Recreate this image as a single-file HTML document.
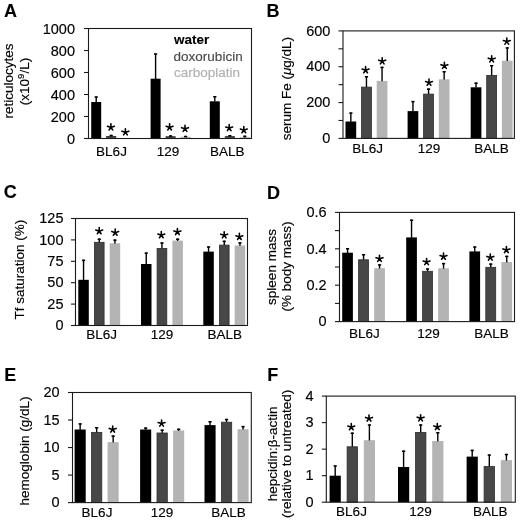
<!DOCTYPE html>
<html><head><meta charset="utf-8"><style>
html,body{margin:0;padding:0;background:#fff;}
svg{display:block;filter:grayscale(1);}
text{font-family:"Liberation Sans", sans-serif;}
</style></head><body>
<svg width="520" height="523" viewBox="0 0 520 523">
<rect width="520" height="523" fill="#fff"/>
<rect x="91.20" y="102.00" width="10.00" height="36.50" fill="#000000"/>
<rect x="95.50" y="96.30" width="1.4" height="6.00" fill="#000"/>
<rect x="94.60" y="96.30" width="3.2" height="1.5" fill="#000"/>
<rect x="106.60" y="136.40" width="9.20" height="2.10" fill="#474747" stroke="#2e2e2e" stroke-width="0.8"/>
<rect x="110.50" y="134.80" width="1.4" height="1.50" fill="#000"/>
<rect x="109.60" y="134.80" width="3.2" height="1.5" fill="#000"/>
<rect x="121.20" y="138.50" width="10.00" height="0.00" fill="#b4b4b4"/>
<rect x="150.60" y="78.70" width="10.00" height="59.80" fill="#000000"/>
<rect x="154.90" y="53.30" width="1.4" height="25.70" fill="#000"/>
<rect x="154.00" y="53.30" width="3.2" height="1.5" fill="#000"/>
<rect x="166.00" y="136.70" width="9.20" height="1.80" fill="#474747" stroke="#2e2e2e" stroke-width="0.8"/>
<rect x="169.90" y="135.30" width="1.4" height="1.30" fill="#000"/>
<rect x="169.00" y="135.30" width="3.2" height="1.5" fill="#000"/>
<rect x="180.60" y="136.80" width="10.00" height="1.70" fill="#b4b4b4"/>
<rect x="184.90" y="135.80" width="1.4" height="1.30" fill="#000"/>
<rect x="184.00" y="135.80" width="3.2" height="1.5" fill="#000"/>
<rect x="209.80" y="101.30" width="10.00" height="37.20" fill="#000000"/>
<rect x="214.10" y="96.00" width="1.4" height="5.60" fill="#000"/>
<rect x="213.20" y="96.00" width="3.2" height="1.5" fill="#000"/>
<rect x="225.20" y="136.60" width="9.20" height="1.90" fill="#474747" stroke="#2e2e2e" stroke-width="0.8"/>
<rect x="229.10" y="135.00" width="1.4" height="1.50" fill="#000"/>
<rect x="228.20" y="135.00" width="3.2" height="1.5" fill="#000"/>
<rect x="239.80" y="137.20" width="10.00" height="1.30" fill="#b4b4b4"/>
<rect x="244.10" y="135.60" width="1.4" height="1.90" fill="#000"/>
<rect x="243.20" y="135.60" width="3.2" height="1.5" fill="#000"/>
<rect x="88.50" y="28.50" width="163.00" height="110.00" fill="none" stroke="#1a1a1a" stroke-width="1.1"/>
<line x1="84.00" y1="138.50" x2="88.50" y2="138.50" stroke="#1a1a1a" stroke-width="1.1"/>
<line x1="84.00" y1="116.50" x2="88.50" y2="116.50" stroke="#1a1a1a" stroke-width="1.1"/>
<line x1="84.00" y1="94.50" x2="88.50" y2="94.50" stroke="#1a1a1a" stroke-width="1.1"/>
<line x1="84.00" y1="72.50" x2="88.50" y2="72.50" stroke="#1a1a1a" stroke-width="1.1"/>
<line x1="84.00" y1="50.50" x2="88.50" y2="50.50" stroke="#1a1a1a" stroke-width="1.1"/>
<line x1="84.00" y1="28.50" x2="88.50" y2="28.50" stroke="#1a1a1a" stroke-width="1.1"/>
<text x="75.00" y="143.50" font-size="14.5" text-anchor="end" font-weight="normal" fill="#000" stroke="#000" stroke-width="0.15" >0</text>
<text x="75.00" y="121.50" font-size="14.5" text-anchor="end" font-weight="normal" fill="#000" stroke="#000" stroke-width="0.15" >200</text>
<text x="75.00" y="99.50" font-size="14.5" text-anchor="end" font-weight="normal" fill="#000" stroke="#000" stroke-width="0.15" >400</text>
<text x="75.00" y="77.50" font-size="14.5" text-anchor="end" font-weight="normal" fill="#000" stroke="#000" stroke-width="0.15" >600</text>
<text x="75.00" y="55.50" font-size="14.5" text-anchor="end" font-weight="normal" fill="#000" stroke="#000" stroke-width="0.15" >800</text>
<text x="75.00" y="33.50" font-size="14.5" text-anchor="end" font-weight="normal" fill="#000" stroke="#000" stroke-width="0.15" >1000</text>
<path d="M110.90 127.40L110.90 123.85M110.90 127.40L114.32 126.29M110.90 127.40L107.48 126.29M110.90 127.40L112.75 129.95M110.90 127.40L109.05 129.95" stroke="#000" stroke-width="1.6" stroke-linecap="round" fill="none"/>
<path d="M125.40 132.30L125.40 128.75M125.40 132.30L128.82 131.19M125.40 132.30L121.98 131.19M125.40 132.30L127.25 134.85M125.40 132.30L123.55 134.85" stroke="#000" stroke-width="1.6" stroke-linecap="round" fill="none"/>
<path d="M169.60 127.40L169.60 123.85M169.60 127.40L173.02 126.29M169.60 127.40L166.18 126.29M169.60 127.40L171.45 129.95M169.60 127.40L167.75 129.95" stroke="#000" stroke-width="1.6" stroke-linecap="round" fill="none"/>
<path d="M185.00 128.80L185.00 125.25M185.00 128.80L188.42 127.69M185.00 128.80L181.58 127.69M185.00 128.80L186.85 131.35M185.00 128.80L183.15 131.35" stroke="#000" stroke-width="1.6" stroke-linecap="round" fill="none"/>
<path d="M229.20 128.10L229.20 124.55M229.20 128.10L232.62 126.99M229.20 128.10L225.78 126.99M229.20 128.10L231.05 130.65M229.20 128.10L227.35 130.65" stroke="#000" stroke-width="1.6" stroke-linecap="round" fill="none"/>
<path d="M243.80 130.20L243.80 126.65M243.80 130.20L247.22 129.09M243.80 130.20L240.38 129.09M243.80 130.20L245.65 132.75M243.80 130.20L241.95 132.75" stroke="#000" stroke-width="1.6" stroke-linecap="round" fill="none"/>
<text x="111.50" y="156.20" font-size="13.5" text-anchor="middle" font-weight="normal" fill="#000" stroke="#000" stroke-width="0.15" >BL6J</text>
<text x="168.10" y="156.20" font-size="13.5" text-anchor="middle" font-weight="normal" fill="#000" stroke="#000" stroke-width="0.15" >129</text>
<text x="227.20" y="156.20" font-size="13.5" text-anchor="middle" font-weight="normal" fill="#000" stroke="#000" stroke-width="0.15" >BALB</text>
<text x="4.00" y="16.70" font-size="18" text-anchor="start" font-weight="bold" fill="#000" stroke="#000" stroke-width="0.1" >A</text>
<text transform="translate(13.40,81.00) rotate(-90)" x="0" y="0" font-size="13.5" text-anchor="middle" fill="#000" stroke="#000" stroke-width="0.15">reticulocytes</text>
<text transform="translate(28.50,81.50) rotate(-90)" x="0" y="0" font-size="13.5" text-anchor="middle" fill="#000" stroke="#000" stroke-width="0.15">(x10<tspan font-size="9.5" dy="-5">9</tspan><tspan dy="5">/L)</tspan></text>
<rect x="345.50" y="121.50" width="10.70" height="16.90" fill="#000000"/>
<rect x="350.15" y="112.40" width="1.4" height="9.40" fill="#000"/>
<rect x="349.25" y="112.40" width="3.2" height="1.5" fill="#000"/>
<rect x="361.50" y="87.10" width="9.90" height="51.30" fill="#474747" stroke="#2e2e2e" stroke-width="0.8"/>
<rect x="365.75" y="76.00" width="1.4" height="11.00" fill="#000"/>
<rect x="364.85" y="76.00" width="3.2" height="1.5" fill="#000"/>
<rect x="376.70" y="80.90" width="10.70" height="57.50" fill="#b4b4b4"/>
<rect x="381.35" y="66.70" width="1.4" height="14.50" fill="#000"/>
<rect x="380.45" y="66.70" width="3.2" height="1.5" fill="#000"/>
<rect x="407.60" y="111.10" width="10.70" height="27.30" fill="#000000"/>
<rect x="412.25" y="100.90" width="1.4" height="10.50" fill="#000"/>
<rect x="411.35" y="100.90" width="3.2" height="1.5" fill="#000"/>
<rect x="423.60" y="94.10" width="9.90" height="44.30" fill="#474747" stroke="#2e2e2e" stroke-width="0.8"/>
<rect x="427.85" y="88.40" width="1.4" height="5.60" fill="#000"/>
<rect x="426.95" y="88.40" width="3.2" height="1.5" fill="#000"/>
<rect x="438.80" y="79.30" width="10.70" height="59.10" fill="#b4b4b4"/>
<rect x="443.45" y="71.00" width="1.4" height="8.60" fill="#000"/>
<rect x="442.55" y="71.00" width="3.2" height="1.5" fill="#000"/>
<rect x="470.70" y="87.30" width="10.70" height="51.10" fill="#000000"/>
<rect x="475.35" y="82.50" width="1.4" height="5.10" fill="#000"/>
<rect x="474.45" y="82.50" width="3.2" height="1.5" fill="#000"/>
<rect x="486.70" y="75.40" width="9.90" height="63.00" fill="#474747" stroke="#2e2e2e" stroke-width="0.8"/>
<rect x="490.95" y="65.00" width="1.4" height="10.30" fill="#000"/>
<rect x="490.05" y="65.00" width="3.2" height="1.5" fill="#000"/>
<rect x="501.90" y="60.70" width="10.70" height="77.70" fill="#b4b4b4"/>
<rect x="506.55" y="47.20" width="1.4" height="13.80" fill="#000"/>
<rect x="505.65" y="47.20" width="3.2" height="1.5" fill="#000"/>
<rect x="343.00" y="30.90" width="171.40" height="107.50" fill="none" stroke="#1a1a1a" stroke-width="1.1"/>
<line x1="338.50" y1="138.40" x2="343.00" y2="138.40" stroke="#1a1a1a" stroke-width="1.1"/>
<line x1="338.50" y1="120.48" x2="343.00" y2="120.48" stroke="#1a1a1a" stroke-width="1.1"/>
<line x1="338.50" y1="102.57" x2="343.00" y2="102.57" stroke="#1a1a1a" stroke-width="1.1"/>
<line x1="338.50" y1="84.65" x2="343.00" y2="84.65" stroke="#1a1a1a" stroke-width="1.1"/>
<line x1="338.50" y1="66.73" x2="343.00" y2="66.73" stroke="#1a1a1a" stroke-width="1.1"/>
<line x1="338.50" y1="48.82" x2="343.00" y2="48.82" stroke="#1a1a1a" stroke-width="1.1"/>
<line x1="338.50" y1="30.90" x2="343.00" y2="30.90" stroke="#1a1a1a" stroke-width="1.1"/>
<text x="330.40" y="143.10" font-size="14.5" text-anchor="end" font-weight="normal" fill="#000" stroke="#000" stroke-width="0.15" >0</text>
<text x="330.40" y="107.27" font-size="14.5" text-anchor="end" font-weight="normal" fill="#000" stroke="#000" stroke-width="0.15" >200</text>
<text x="330.40" y="71.43" font-size="14.5" text-anchor="end" font-weight="normal" fill="#000" stroke="#000" stroke-width="0.15" >400</text>
<text x="330.40" y="35.60" font-size="14.5" text-anchor="end" font-weight="normal" fill="#000" stroke="#000" stroke-width="0.15" >600</text>
<path d="M365.60 70.20L365.60 66.65M365.60 70.20L369.02 69.09M365.60 70.20L362.18 69.09M365.60 70.20L367.45 72.75M365.60 70.20L363.75 72.75" stroke="#000" stroke-width="1.6" stroke-linecap="round" fill="none"/>
<path d="M382.20 61.30L382.20 57.75M382.20 61.30L385.62 60.19M382.20 61.30L378.78 60.19M382.20 61.30L384.05 63.85M382.20 61.30L380.35 63.85" stroke="#000" stroke-width="1.6" stroke-linecap="round" fill="none"/>
<path d="M429.00 82.70L429.00 79.15M429.00 82.70L432.42 81.59M429.00 82.70L425.58 81.59M429.00 82.70L430.85 85.25M429.00 82.70L427.15 85.25" stroke="#000" stroke-width="1.6" stroke-linecap="round" fill="none"/>
<path d="M444.40 65.80L444.40 62.25M444.40 65.80L447.82 64.69M444.40 65.80L440.98 64.69M444.40 65.80L446.25 68.35M444.40 65.80L442.55 68.35" stroke="#000" stroke-width="1.6" stroke-linecap="round" fill="none"/>
<path d="M491.70 59.30L491.70 55.75M491.70 59.30L495.12 58.19M491.70 59.30L488.28 58.19M491.70 59.30L493.55 61.85M491.70 59.30L489.85 61.85" stroke="#000" stroke-width="1.6" stroke-linecap="round" fill="none"/>
<path d="M506.80 41.60L506.80 38.05M506.80 41.60L510.22 40.49M506.80 41.60L503.38 40.49M506.80 41.60L508.65 44.15M506.80 41.60L504.95 44.15" stroke="#000" stroke-width="1.6" stroke-linecap="round" fill="none"/>
<text x="367.70" y="152.80" font-size="13.5" text-anchor="middle" font-weight="normal" fill="#000" stroke="#000" stroke-width="0.15" >BL6J</text>
<text x="428.90" y="152.80" font-size="13.5" text-anchor="middle" font-weight="normal" fill="#000" stroke="#000" stroke-width="0.15" >129</text>
<text x="491.40" y="152.80" font-size="13.5" text-anchor="middle" font-weight="normal" fill="#000" stroke="#000" stroke-width="0.15" >BALB</text>
<text x="266.60" y="17.40" font-size="18" text-anchor="start" font-weight="bold" fill="#000" stroke="#000" stroke-width="0.1" >B</text>
<text transform="translate(291.40,88.60) rotate(-90)" x="0" y="0" font-size="13.5" text-anchor="middle" fill="#000" stroke="#000" stroke-width="0.15">serum Fe (<tspan font-style="italic">μ</tspan>g/dL)</text>
<rect x="78.30" y="279.80" width="10.50" height="45.70" fill="#000000"/>
<rect x="82.85" y="259.60" width="1.4" height="20.50" fill="#000"/>
<rect x="81.95" y="259.60" width="3.2" height="1.5" fill="#000"/>
<rect x="94.40" y="242.30" width="9.70" height="83.20" fill="#474747" stroke="#2e2e2e" stroke-width="0.8"/>
<rect x="98.55" y="238.50" width="1.4" height="3.70" fill="#000"/>
<rect x="97.65" y="238.50" width="3.2" height="1.5" fill="#000"/>
<rect x="109.70" y="243.30" width="10.50" height="82.20" fill="#b4b4b4"/>
<rect x="114.25" y="239.40" width="1.4" height="4.20" fill="#000"/>
<rect x="113.35" y="239.40" width="3.2" height="1.5" fill="#000"/>
<rect x="141.00" y="264.00" width="10.50" height="61.50" fill="#000000"/>
<rect x="145.55" y="252.40" width="1.4" height="11.90" fill="#000"/>
<rect x="144.65" y="252.40" width="3.2" height="1.5" fill="#000"/>
<rect x="157.10" y="248.40" width="9.70" height="77.10" fill="#474747" stroke="#2e2e2e" stroke-width="0.8"/>
<rect x="161.25" y="242.30" width="1.4" height="6.00" fill="#000"/>
<rect x="160.35" y="242.30" width="3.2" height="1.5" fill="#000"/>
<rect x="172.40" y="240.60" width="10.50" height="84.90" fill="#b4b4b4"/>
<rect x="176.95" y="238.50" width="1.4" height="2.40" fill="#000"/>
<rect x="176.05" y="238.50" width="3.2" height="1.5" fill="#000"/>
<rect x="203.30" y="251.60" width="10.50" height="73.90" fill="#000000"/>
<rect x="207.85" y="246.30" width="1.4" height="5.60" fill="#000"/>
<rect x="206.95" y="246.30" width="3.2" height="1.5" fill="#000"/>
<rect x="219.40" y="245.10" width="9.70" height="80.40" fill="#474747" stroke="#2e2e2e" stroke-width="0.8"/>
<rect x="223.55" y="240.60" width="1.4" height="4.40" fill="#000"/>
<rect x="222.65" y="240.60" width="3.2" height="1.5" fill="#000"/>
<rect x="234.70" y="245.50" width="10.50" height="80.00" fill="#b4b4b4"/>
<rect x="239.25" y="242.20" width="1.4" height="3.60" fill="#000"/>
<rect x="238.35" y="242.20" width="3.2" height="1.5" fill="#000"/>
<rect x="75.50" y="218.50" width="172.00" height="107.00" fill="none" stroke="#1a1a1a" stroke-width="1.1"/>
<line x1="71.00" y1="325.50" x2="75.50" y2="325.50" stroke="#1a1a1a" stroke-width="1.1"/>
<line x1="71.00" y1="304.10" x2="75.50" y2="304.10" stroke="#1a1a1a" stroke-width="1.1"/>
<line x1="71.00" y1="282.70" x2="75.50" y2="282.70" stroke="#1a1a1a" stroke-width="1.1"/>
<line x1="71.00" y1="261.30" x2="75.50" y2="261.30" stroke="#1a1a1a" stroke-width="1.1"/>
<line x1="71.00" y1="239.90" x2="75.50" y2="239.90" stroke="#1a1a1a" stroke-width="1.1"/>
<line x1="71.00" y1="218.50" x2="75.50" y2="218.50" stroke="#1a1a1a" stroke-width="1.1"/>
<text x="63.50" y="330.20" font-size="14.5" text-anchor="end" font-weight="normal" fill="#000" stroke="#000" stroke-width="0.15" >0</text>
<text x="63.50" y="308.80" font-size="14.5" text-anchor="end" font-weight="normal" fill="#000" stroke="#000" stroke-width="0.15" >25</text>
<text x="63.50" y="287.40" font-size="14.5" text-anchor="end" font-weight="normal" fill="#000" stroke="#000" stroke-width="0.15" >50</text>
<text x="63.50" y="266.00" font-size="14.5" text-anchor="end" font-weight="normal" fill="#000" stroke="#000" stroke-width="0.15" >75</text>
<text x="63.50" y="244.60" font-size="14.5" text-anchor="end" font-weight="normal" fill="#000" stroke="#000" stroke-width="0.15" >100</text>
<text x="63.50" y="223.20" font-size="14.5" text-anchor="end" font-weight="normal" fill="#000" stroke="#000" stroke-width="0.15" >125</text>
<path d="M99.20 231.20L99.20 227.65M99.20 231.20L102.62 230.09M99.20 231.20L95.78 230.09M99.20 231.20L101.05 233.75M99.20 231.20L97.35 233.75" stroke="#000" stroke-width="1.6" stroke-linecap="round" fill="none"/>
<path d="M115.20 232.70L115.20 229.15M115.20 232.70L118.62 231.59M115.20 232.70L111.78 231.59M115.20 232.70L117.05 235.25M115.20 232.70L113.35 235.25" stroke="#000" stroke-width="1.6" stroke-linecap="round" fill="none"/>
<path d="M161.30 235.20L161.30 231.65M161.30 235.20L164.72 234.09M161.30 235.20L157.88 234.09M161.30 235.20L163.15 237.75M161.30 235.20L159.45 237.75" stroke="#000" stroke-width="1.6" stroke-linecap="round" fill="none"/>
<path d="M177.40 232.00L177.40 228.45M177.40 232.00L180.82 230.89M177.40 232.00L173.98 230.89M177.40 232.00L179.25 234.55M177.40 232.00L175.55 234.55" stroke="#000" stroke-width="1.6" stroke-linecap="round" fill="none"/>
<path d="M224.20 235.30L224.20 231.75M224.20 235.30L227.62 234.19M224.20 235.30L220.78 234.19M224.20 235.30L226.05 237.85M224.20 235.30L222.35 237.85" stroke="#000" stroke-width="1.6" stroke-linecap="round" fill="none"/>
<path d="M239.40 236.90L239.40 233.35M239.40 236.90L242.82 235.79M239.40 236.90L235.98 235.79M239.40 236.90L241.25 239.45M239.40 236.90L237.55 239.45" stroke="#000" stroke-width="1.6" stroke-linecap="round" fill="none"/>
<text x="101.70" y="338.90" font-size="13.5" text-anchor="middle" font-weight="normal" fill="#000" stroke="#000" stroke-width="0.15" >BL6J</text>
<text x="162.00" y="338.90" font-size="13.5" text-anchor="middle" font-weight="normal" fill="#000" stroke="#000" stroke-width="0.15" >129</text>
<text x="224.70" y="338.90" font-size="13.5" text-anchor="middle" font-weight="normal" fill="#000" stroke="#000" stroke-width="0.15" >BALB</text>
<text x="3.80" y="198.30" font-size="18" text-anchor="start" font-weight="bold" fill="#000" stroke="#000" stroke-width="0.1" >C</text>
<text transform="translate(23.60,269.70) rotate(-90)" x="0" y="0" font-size="13.5" text-anchor="middle" fill="#000" stroke="#000" stroke-width="0.15">Tf saturation (%)</text>
<rect x="342.20" y="252.70" width="10.70" height="68.90" fill="#000000"/>
<rect x="346.85" y="248.00" width="1.4" height="5.00" fill="#000"/>
<rect x="345.95" y="248.00" width="3.2" height="1.5" fill="#000"/>
<rect x="358.60" y="259.80" width="9.90" height="61.80" fill="#474747" stroke="#2e2e2e" stroke-width="0.8"/>
<rect x="362.85" y="254.00" width="1.4" height="5.70" fill="#000"/>
<rect x="361.95" y="254.00" width="3.2" height="1.5" fill="#000"/>
<rect x="374.20" y="268.20" width="10.70" height="53.40" fill="#b4b4b4"/>
<rect x="378.85" y="264.20" width="1.4" height="4.30" fill="#000"/>
<rect x="377.95" y="264.20" width="3.2" height="1.5" fill="#000"/>
<rect x="406.20" y="237.40" width="10.70" height="84.20" fill="#000000"/>
<rect x="410.85" y="219.50" width="1.4" height="18.20" fill="#000"/>
<rect x="409.95" y="219.50" width="3.2" height="1.5" fill="#000"/>
<rect x="422.60" y="271.30" width="9.90" height="50.30" fill="#474747" stroke="#2e2e2e" stroke-width="0.8"/>
<rect x="426.85" y="268.30" width="1.4" height="2.90" fill="#000"/>
<rect x="425.95" y="268.30" width="3.2" height="1.5" fill="#000"/>
<rect x="438.20" y="268.30" width="10.70" height="53.30" fill="#b4b4b4"/>
<rect x="442.85" y="262.90" width="1.4" height="5.70" fill="#000"/>
<rect x="441.95" y="262.90" width="3.2" height="1.5" fill="#000"/>
<rect x="469.40" y="251.40" width="10.70" height="70.20" fill="#000000"/>
<rect x="474.05" y="246.30" width="1.4" height="5.40" fill="#000"/>
<rect x="473.15" y="246.30" width="3.2" height="1.5" fill="#000"/>
<rect x="485.80" y="267.30" width="9.90" height="54.30" fill="#474747" stroke="#2e2e2e" stroke-width="0.8"/>
<rect x="490.05" y="263.40" width="1.4" height="3.80" fill="#000"/>
<rect x="489.15" y="263.40" width="3.2" height="1.5" fill="#000"/>
<rect x="501.40" y="262.10" width="10.70" height="59.50" fill="#b4b4b4"/>
<rect x="506.05" y="255.70" width="1.4" height="6.70" fill="#000"/>
<rect x="505.15" y="255.70" width="3.2" height="1.5" fill="#000"/>
<rect x="339.50" y="212.40" width="175.00" height="109.20" fill="none" stroke="#1a1a1a" stroke-width="1.1"/>
<line x1="335.00" y1="321.60" x2="339.50" y2="321.60" stroke="#1a1a1a" stroke-width="1.1"/>
<line x1="335.00" y1="303.40" x2="339.50" y2="303.40" stroke="#1a1a1a" stroke-width="1.1"/>
<line x1="335.00" y1="285.20" x2="339.50" y2="285.20" stroke="#1a1a1a" stroke-width="1.1"/>
<line x1="335.00" y1="267.00" x2="339.50" y2="267.00" stroke="#1a1a1a" stroke-width="1.1"/>
<line x1="335.00" y1="248.80" x2="339.50" y2="248.80" stroke="#1a1a1a" stroke-width="1.1"/>
<line x1="335.00" y1="230.60" x2="339.50" y2="230.60" stroke="#1a1a1a" stroke-width="1.1"/>
<line x1="335.00" y1="212.40" x2="339.50" y2="212.40" stroke="#1a1a1a" stroke-width="1.1"/>
<text x="326.70" y="326.30" font-size="14.5" text-anchor="end" font-weight="normal" fill="#000" stroke="#000" stroke-width="0.15" >0</text>
<text x="326.70" y="289.90" font-size="14.5" text-anchor="end" font-weight="normal" fill="#000" stroke="#000" stroke-width="0.15" >0.2</text>
<text x="326.70" y="253.50" font-size="14.5" text-anchor="end" font-weight="normal" fill="#000" stroke="#000" stroke-width="0.15" >0.4</text>
<text x="326.70" y="217.10" font-size="14.5" text-anchor="end" font-weight="normal" fill="#000" stroke="#000" stroke-width="0.15" >0.6</text>
<path d="M379.50 258.80L379.50 255.25M379.50 258.80L382.92 257.69M379.50 258.80L376.08 257.69M379.50 258.80L381.35 261.35M379.50 258.80L377.65 261.35" stroke="#000" stroke-width="1.6" stroke-linecap="round" fill="none"/>
<path d="M426.60 262.10L426.60 258.55M426.60 262.10L430.02 260.99M426.60 262.10L423.18 260.99M426.60 262.10L428.45 264.65M426.60 262.10L424.75 264.65" stroke="#000" stroke-width="1.6" stroke-linecap="round" fill="none"/>
<path d="M443.50 256.70L443.50 253.15M443.50 256.70L446.92 255.59M443.50 256.70L440.08 255.59M443.50 256.70L445.35 259.25M443.50 256.70L441.65 259.25" stroke="#000" stroke-width="1.6" stroke-linecap="round" fill="none"/>
<path d="M490.30 257.50L490.30 253.95M490.30 257.50L493.72 256.39M490.30 257.50L486.88 256.39M490.30 257.50L492.15 260.05M490.30 257.50L488.45 260.05" stroke="#000" stroke-width="1.6" stroke-linecap="round" fill="none"/>
<path d="M506.40 250.00L506.40 246.45M506.40 250.00L509.82 248.89M506.40 250.00L502.98 248.89M506.40 250.00L508.25 252.55M506.40 250.00L504.55 252.55" stroke="#000" stroke-width="1.6" stroke-linecap="round" fill="none"/>
<text x="364.40" y="337.70" font-size="13.5" text-anchor="middle" font-weight="normal" fill="#000" stroke="#000" stroke-width="0.15" >BL6J</text>
<text x="428.50" y="337.70" font-size="13.5" text-anchor="middle" font-weight="normal" fill="#000" stroke="#000" stroke-width="0.15" >129</text>
<text x="491.60" y="337.70" font-size="13.5" text-anchor="middle" font-weight="normal" fill="#000" stroke="#000" stroke-width="0.15" >BALB</text>
<text x="266.90" y="198.80" font-size="18" text-anchor="start" font-weight="bold" fill="#000" stroke="#000" stroke-width="0.1" >D</text>
<text transform="translate(276.20,267.00) rotate(-90)" x="0" y="0" font-size="13.5" text-anchor="middle" fill="#000" stroke="#000" stroke-width="0.15">spleen mass</text>
<text transform="translate(291.10,266.50) rotate(-90)" x="0" y="0" font-size="13.5" text-anchor="middle" fill="#000" stroke="#000" stroke-width="0.15">(% body mass)</text>
<rect x="74.60" y="429.50" width="11.10" height="73.10" fill="#000000"/>
<rect x="79.45" y="423.20" width="1.4" height="6.60" fill="#000"/>
<rect x="78.55" y="423.20" width="3.2" height="1.5" fill="#000"/>
<rect x="91.50" y="432.40" width="10.30" height="70.20" fill="#474747" stroke="#2e2e2e" stroke-width="0.8"/>
<rect x="95.95" y="427.00" width="1.4" height="5.30" fill="#000"/>
<rect x="95.05" y="427.00" width="3.2" height="1.5" fill="#000"/>
<rect x="107.60" y="442.10" width="11.10" height="60.50" fill="#b4b4b4"/>
<rect x="112.45" y="435.40" width="1.4" height="7.00" fill="#000"/>
<rect x="111.55" y="435.40" width="3.2" height="1.5" fill="#000"/>
<rect x="140.10" y="429.50" width="11.10" height="73.10" fill="#000000"/>
<rect x="144.95" y="427.40" width="1.4" height="2.40" fill="#000"/>
<rect x="144.05" y="427.40" width="3.2" height="1.5" fill="#000"/>
<rect x="157.00" y="433.00" width="10.30" height="69.60" fill="#474747" stroke="#2e2e2e" stroke-width="0.8"/>
<rect x="161.45" y="429.50" width="1.4" height="3.40" fill="#000"/>
<rect x="160.55" y="429.50" width="3.2" height="1.5" fill="#000"/>
<rect x="173.10" y="430.50" width="11.10" height="72.10" fill="#b4b4b4"/>
<rect x="177.95" y="428.60" width="1.4" height="2.20" fill="#000"/>
<rect x="177.05" y="428.60" width="3.2" height="1.5" fill="#000"/>
<rect x="204.50" y="425.10" width="11.10" height="77.50" fill="#000000"/>
<rect x="209.35" y="421.00" width="1.4" height="4.40" fill="#000"/>
<rect x="208.45" y="421.00" width="3.2" height="1.5" fill="#000"/>
<rect x="221.40" y="422.20" width="10.30" height="80.40" fill="#474747" stroke="#2e2e2e" stroke-width="0.8"/>
<rect x="225.85" y="418.80" width="1.4" height="3.30" fill="#000"/>
<rect x="224.95" y="418.80" width="3.2" height="1.5" fill="#000"/>
<rect x="237.50" y="429.20" width="11.10" height="73.40" fill="#b4b4b4"/>
<rect x="242.35" y="425.90" width="1.4" height="3.60" fill="#000"/>
<rect x="241.45" y="425.90" width="3.2" height="1.5" fill="#000"/>
<rect x="72.50" y="392.50" width="178.80" height="110.10" fill="none" stroke="#1a1a1a" stroke-width="1.1"/>
<line x1="68.00" y1="502.60" x2="72.50" y2="502.60" stroke="#1a1a1a" stroke-width="1.1"/>
<line x1="68.00" y1="475.08" x2="72.50" y2="475.08" stroke="#1a1a1a" stroke-width="1.1"/>
<line x1="68.00" y1="447.55" x2="72.50" y2="447.55" stroke="#1a1a1a" stroke-width="1.1"/>
<line x1="68.00" y1="420.02" x2="72.50" y2="420.02" stroke="#1a1a1a" stroke-width="1.1"/>
<line x1="68.00" y1="392.50" x2="72.50" y2="392.50" stroke="#1a1a1a" stroke-width="1.1"/>
<text x="59.70" y="507.30" font-size="14.5" text-anchor="end" font-weight="normal" fill="#000" stroke="#000" stroke-width="0.15" >0</text>
<text x="59.70" y="479.78" font-size="14.5" text-anchor="end" font-weight="normal" fill="#000" stroke="#000" stroke-width="0.15" >5</text>
<text x="59.70" y="452.25" font-size="14.5" text-anchor="end" font-weight="normal" fill="#000" stroke="#000" stroke-width="0.15" >10</text>
<text x="59.70" y="424.72" font-size="14.5" text-anchor="end" font-weight="normal" fill="#000" stroke="#000" stroke-width="0.15" >15</text>
<text x="59.70" y="397.20" font-size="14.5" text-anchor="end" font-weight="normal" fill="#000" stroke="#000" stroke-width="0.15" >20</text>
<path d="M112.70 429.50L112.70 425.95M112.70 429.50L116.12 428.39M112.70 429.50L109.28 428.39M112.70 429.50L114.55 432.05M112.70 429.50L110.85 432.05" stroke="#000" stroke-width="1.6" stroke-linecap="round" fill="none"/>
<path d="M161.60 423.60L161.60 420.05M161.60 423.60L165.02 422.49M161.60 423.60L158.18 422.49M161.60 423.60L163.45 426.15M161.60 423.60L159.75 426.15" stroke="#000" stroke-width="1.6" stroke-linecap="round" fill="none"/>
<text x="97.00" y="516.60" font-size="13.5" text-anchor="middle" font-weight="normal" fill="#000" stroke="#000" stroke-width="0.15" >BL6J</text>
<text x="162.00" y="516.60" font-size="13.5" text-anchor="middle" font-weight="normal" fill="#000" stroke="#000" stroke-width="0.15" >129</text>
<text x="228.50" y="516.60" font-size="13.5" text-anchor="middle" font-weight="normal" fill="#000" stroke="#000" stroke-width="0.15" >BALB</text>
<text x="4.30" y="380.80" font-size="18" text-anchor="start" font-weight="bold" fill="#000" stroke="#000" stroke-width="0.1" >E</text>
<text transform="translate(29.30,451.00) rotate(-90)" x="0" y="0" font-size="13.5" text-anchor="middle" fill="#000" stroke="#000" stroke-width="0.15">hemoglobin (g/dL)</text>
<rect x="329.60" y="475.70" width="11.20" height="26.50" fill="#000000"/>
<rect x="334.50" y="465.30" width="1.4" height="10.70" fill="#000"/>
<rect x="333.60" y="465.30" width="3.2" height="1.5" fill="#000"/>
<rect x="347.10" y="446.80" width="10.40" height="55.40" fill="#474747" stroke="#2e2e2e" stroke-width="0.8"/>
<rect x="351.60" y="432.50" width="1.4" height="14.20" fill="#000"/>
<rect x="350.70" y="432.50" width="3.2" height="1.5" fill="#000"/>
<rect x="363.80" y="440.20" width="11.20" height="62.00" fill="#b4b4b4"/>
<rect x="368.70" y="424.30" width="1.4" height="16.20" fill="#000"/>
<rect x="367.80" y="424.30" width="3.2" height="1.5" fill="#000"/>
<rect x="398.00" y="467.00" width="11.20" height="35.20" fill="#000000"/>
<rect x="402.90" y="450.50" width="1.4" height="16.80" fill="#000"/>
<rect x="402.00" y="450.50" width="3.2" height="1.5" fill="#000"/>
<rect x="415.50" y="432.40" width="10.40" height="69.80" fill="#474747" stroke="#2e2e2e" stroke-width="0.8"/>
<rect x="420.00" y="424.30" width="1.4" height="8.00" fill="#000"/>
<rect x="419.10" y="424.30" width="3.2" height="1.5" fill="#000"/>
<rect x="432.20" y="441.00" width="11.20" height="61.20" fill="#b4b4b4"/>
<rect x="437.10" y="432.00" width="1.4" height="9.30" fill="#000"/>
<rect x="436.20" y="432.00" width="3.2" height="1.5" fill="#000"/>
<rect x="466.60" y="456.60" width="11.20" height="45.60" fill="#000000"/>
<rect x="471.50" y="449.70" width="1.4" height="7.20" fill="#000"/>
<rect x="470.60" y="449.70" width="3.2" height="1.5" fill="#000"/>
<rect x="484.10" y="466.50" width="10.40" height="35.70" fill="#474747" stroke="#2e2e2e" stroke-width="0.8"/>
<rect x="488.60" y="454.40" width="1.4" height="12.00" fill="#000"/>
<rect x="487.70" y="454.40" width="3.2" height="1.5" fill="#000"/>
<rect x="500.80" y="460.10" width="11.20" height="42.10" fill="#b4b4b4"/>
<rect x="505.70" y="453.80" width="1.4" height="6.60" fill="#000"/>
<rect x="504.80" y="453.80" width="3.2" height="1.5" fill="#000"/>
<rect x="326.30" y="396.10" width="189.00" height="106.10" fill="none" stroke="#1a1a1a" stroke-width="1.1"/>
<line x1="321.80" y1="502.20" x2="326.30" y2="502.20" stroke="#1a1a1a" stroke-width="1.1"/>
<line x1="321.80" y1="475.68" x2="326.30" y2="475.68" stroke="#1a1a1a" stroke-width="1.1"/>
<line x1="321.80" y1="449.15" x2="326.30" y2="449.15" stroke="#1a1a1a" stroke-width="1.1"/>
<line x1="321.80" y1="422.62" x2="326.30" y2="422.62" stroke="#1a1a1a" stroke-width="1.1"/>
<line x1="321.80" y1="396.10" x2="326.30" y2="396.10" stroke="#1a1a1a" stroke-width="1.1"/>
<text x="313.50" y="506.90" font-size="14.5" text-anchor="end" font-weight="normal" fill="#000" stroke="#000" stroke-width="0.15" >0</text>
<text x="313.50" y="480.38" font-size="14.5" text-anchor="end" font-weight="normal" fill="#000" stroke="#000" stroke-width="0.15" >1</text>
<text x="313.50" y="453.85" font-size="14.5" text-anchor="end" font-weight="normal" fill="#000" stroke="#000" stroke-width="0.15" >2</text>
<text x="313.50" y="427.32" font-size="14.5" text-anchor="end" font-weight="normal" fill="#000" stroke="#000" stroke-width="0.15" >3</text>
<text x="313.50" y="400.80" font-size="14.5" text-anchor="end" font-weight="normal" fill="#000" stroke="#000" stroke-width="0.15" >4</text>
<path d="M351.30 427.20L351.30 423.65M351.30 427.20L354.72 426.09M351.30 427.20L347.88 426.09M351.30 427.20L353.15 429.75M351.30 427.20L349.45 429.75" stroke="#000" stroke-width="1.6" stroke-linecap="round" fill="none"/>
<path d="M369.00 418.50L369.00 414.95M369.00 418.50L372.42 417.39M369.00 418.50L365.58 417.39M369.00 418.50L370.85 421.05M369.00 418.50L367.15 421.05" stroke="#000" stroke-width="1.6" stroke-linecap="round" fill="none"/>
<path d="M420.60 418.30L420.60 414.75M420.60 418.30L424.02 417.19M420.60 418.30L417.18 417.19M420.60 418.30L422.45 420.85M420.60 418.30L418.75 420.85" stroke="#000" stroke-width="1.6" stroke-linecap="round" fill="none"/>
<path d="M437.30 427.00L437.30 423.45M437.30 427.00L440.72 425.89M437.30 427.00L433.88 425.89M437.30 427.00L439.15 429.55M437.30 427.00L435.45 429.55" stroke="#000" stroke-width="1.6" stroke-linecap="round" fill="none"/>
<text x="351.50" y="515.90" font-size="13.5" text-anchor="middle" font-weight="normal" fill="#000" stroke="#000" stroke-width="0.15" >BL6J</text>
<text x="420.50" y="515.90" font-size="13.5" text-anchor="middle" font-weight="normal" fill="#000" stroke="#000" stroke-width="0.15" >129</text>
<text x="490.20" y="515.90" font-size="13.5" text-anchor="middle" font-weight="normal" fill="#000" stroke="#000" stroke-width="0.15" >BALB</text>
<text x="267.30" y="380.80" font-size="18" text-anchor="start" font-weight="bold" fill="#000" stroke="#000" stroke-width="0.1" >F</text>
<text transform="translate(276.90,453.80) rotate(-90)" x="0" y="0" font-size="13.5" text-anchor="middle" fill="#000" stroke="#000" stroke-width="0.15">hepcidin:β-actin</text>
<text transform="translate(291.00,453.80) rotate(-90)" x="0" y="0" font-size="13.5" text-anchor="middle" fill="#000" stroke="#000" stroke-width="0.15">(relative to untreated)</text>
<text x="174.00" y="44.30" font-size="13.5" text-anchor="start" font-weight="bold" fill="#000" stroke="#000" stroke-width="0.1" >water</text>
<text x="173.60" y="60.90" font-size="13.5" text-anchor="start" font-weight="normal" fill="#4a4a4a" stroke="#4a4a4a" stroke-width="0.15" >doxorubicin</text>
<text x="174.00" y="77.20" font-size="13.5" text-anchor="start" font-weight="normal" fill="#b0b0b0" stroke="#b0b0b0" stroke-width="0.15" >carboplatin</text>
</svg>
</body></html>
